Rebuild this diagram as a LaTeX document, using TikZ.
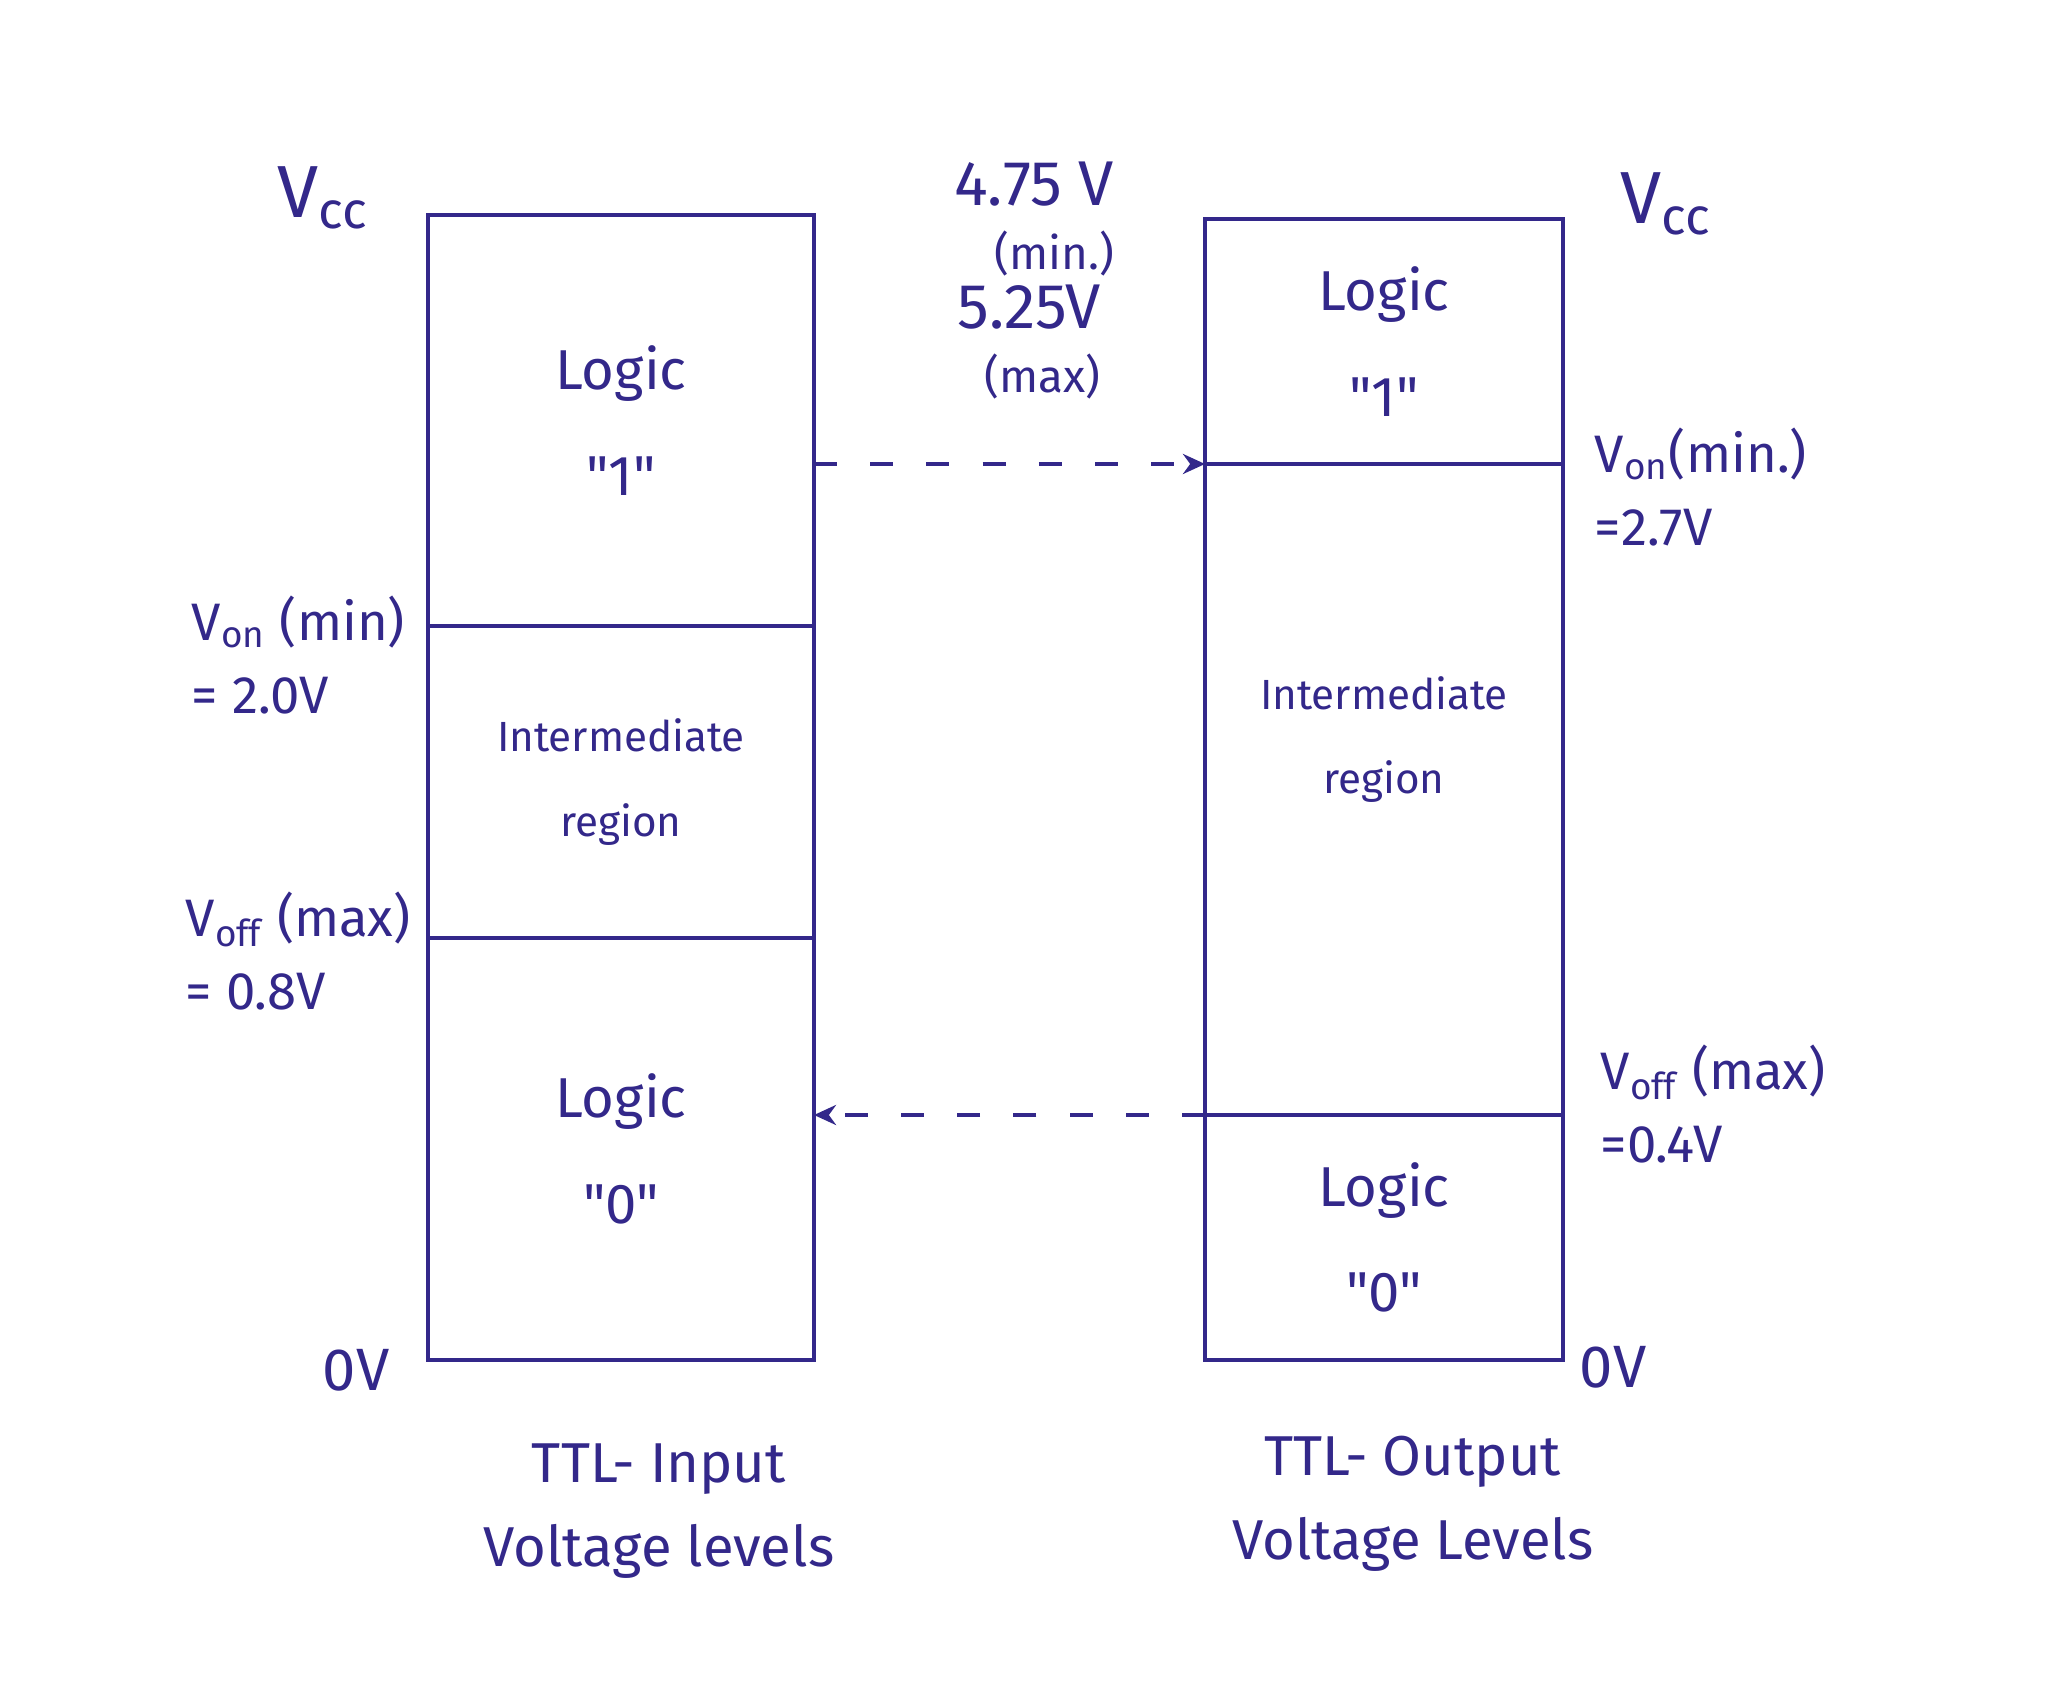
\documentclass[tikz,border=0pt]{standalone}
\usepackage{fontspec}
\newfontfamily\inkfont{Fira Sans}
\usetikzlibrary{positioning,arrows.meta}
\definecolor{InkBlue}{HTML}{33288A}

\begin{document}
\begin{tikzpicture}[
  region/.style={draw=InkBlue,line width=1.3pt,align=center,inner sep=0pt,outer sep=0pt,text=InkBlue,font=\inkfont\fontsize{16}{30}\selectfont},
  inregion/.style={region,minimum width=38.6mm},
  outregion/.style={region,minimum width=35.8mm},
  midtext/.style={text=InkBlue,align=center,font=\inkfont\fontsize{12}{24}\selectfont},
  lbl/.style={text=InkBlue,align=left,inner sep=0pt,font=\inkfont\fontsize{15}{21}\selectfont},
  supply/.style={text=InkBlue,align=right,inner sep=0pt,font=\inkfont\fontsize{13}{18}\selectfont},
  vcc/.style={text=InkBlue,inner sep=0pt,font=\inkfont\fontsize{21}{24}\selectfont},
  caption/.style={text=InkBlue,align=center,inner sep=0pt,font=\inkfont\fontsize{16}{24}\selectfont},
  dashconn/.style={draw=InkBlue,line width=1.1pt,dash pattern=on 6.5pt off 9.5pt,-{Stealth[length=2.2mm,width=2mm]}}
]
\useasboundingbox (0,0) rectangle (20.65,17);
% input levels
\node[inregion,minimum height=41.1mm,anchor=north] (inHigh) at (6.21,14.85) {Logic\\"1"};
\node[inregion,midtext,minimum height=31.2mm,below=0pt of inHigh] (inMid) {Intermediate\\region};
\node[inregion,minimum height=42.2mm,below=0pt of inMid] (inLow) {Logic\\"0"};
% output levels
\node[outregion,minimum height=24.5mm,anchor=north] (outHigh) at (13.84,14.81) {Logic\\"1"};
\node[outregion,minimum height=65.1mm,below=0pt of outHigh] (outMid) {};
\node[midtext,yshift=5mm] (outMidText) at (outMid.center) {Intermediate\\region};
\node[outregion,minimum height=24.5mm,below=0pt of outMid] (outLow) {Logic\\"0"};
% supply
\node[vcc] (vccIn) at (3.23,15.02) {V\textsubscript{cc}};
\node[vcc] (vccOut) at (16.66,14.96) {V\textsubscript{cc}};
\node[supply] (vMin) at (10.34,14.81) {{\fontsize{18}{18}\selectfont 4.75 V}\\(min.)};
\node[supply] (vMax) at (10.29,13.58) {{\fontsize{18}{18}\selectfont 5.25V}\\(max)};
% thresholds
\node[lbl,anchor=west] (vonIn) at (1.91,10.45) {V\textsubscript{on} (min)\\= 2.0V};
\node[lbl,anchor=west] (voffIn) at (1.85,7.49) {V\textsubscript{off} (max)\\= 0.8V};
\node[lbl,anchor=west] (vonOut) at (15.94,12.13) {V\textsubscript{on}(min.)\\=2.7V};
\node[lbl,anchor=west] (voffOut) at (16.00,5.96) {V\textsubscript{off} (max)\\=0.4V};
\node[vcc,font=\inkfont\fontsize{17}{20}\selectfont] (zeroIn) at (3.56,3.30) {0V};
\node[vcc,font=\inkfont\fontsize{17}{20}\selectfont] (zeroOut) at (16.13,3.33) {0V};
% captions
\node[caption] (capIn) at (6.59,1.89) {TTL- Input\\Voltage levels};
\node[caption] (capOut) at (14.13,1.96) {TTL- Output\\Voltage Levels};
\draw[dashconn] (inHigh.east |- outHigh.south) -- (outHigh.south west);
\draw[dashconn] (outLow.north west) -- (inLow.east |- outLow.north west);
\end{tikzpicture}
\end{document}
